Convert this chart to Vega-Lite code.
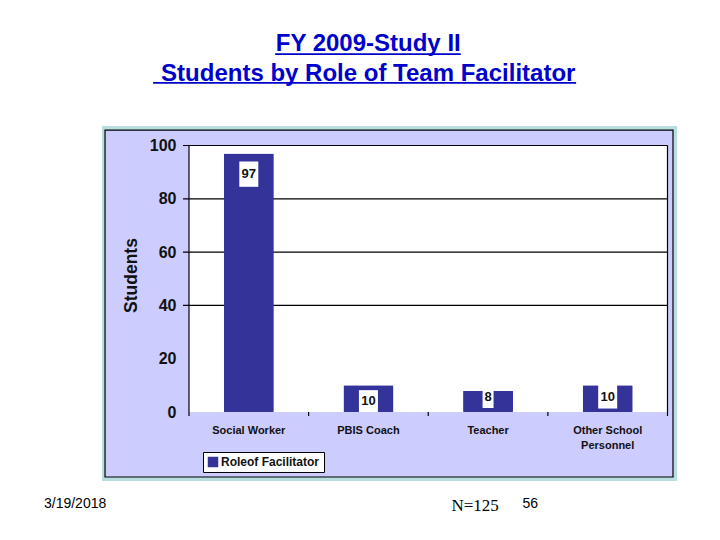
{
  "$schema": "https://vega.github.io/schema/vega-lite/v6.json",
  "description": "Students by role of team facilitator, FY 2009 study II",
  "autosize": "none",
  "width": 478.5,
  "height": 266.5,
  "padding": {"left": 189, "top": 145.5, "right": 52.5, "bottom": 128},
  "background": "white",
  "view": {"stroke": null},
  "title": {
    "text": ["FY 2009-Study II", "Students by Role of Team Facilitator"],
    "anchor": "middle",
    "frame": "group",
    "dx": -60,
    "dy": 83,
    "offset": 50,
    "font": "Liberation Sans",
    "fontSize": 24,
    "fontWeight": "bold",
    "lineHeight": 30,
    "color": "#0000CC"
  },
  "datasets": {
    "roles": [
      {"role": "Social Worker", "students": 97, "boxLow": 84.5, "boxHigh": 94, "labelAt": 89.2},
      {"role": "PBIS Coach", "students": 10, "boxLow": 0, "boxHigh": 8.2, "labelAt": 4.2},
      {"role": "Teacher", "students": 8, "boxLow": 1.5, "boxHigh": 8.6, "labelAt": 5.5},
      {"role": "Other School Personnel", "students": 10, "boxLow": 1.3, "boxHigh": 10.2, "labelAt": 5.7}
    ],
    "frame": [{"left": -0.1818, "right": 1.0199, "low": -25.89, "high": 107.32}],
    "panel": [{"left": -0.1755, "right": 1.0115, "low": -24.39, "high": 105.8}],
    "plot": [{"left": 0, "right": 1, "low": 0, "high": 100}],
    "grid": [
      {"left": -0.0125, "right": 1, "y": 40},
      {"left": -0.0125, "right": 1, "y": 60},
      {"left": -0.0125, "right": 1, "y": 80},
      {"left": -0.0125, "right": 1, "y": 100}
    ],
    "ticks": [
      {"left": 0, "low": -1.5, "high": 100},
      {"left": 0.25, "low": -1.5, "high": 0},
      {"left": 0.5, "low": -1.5, "high": 0},
      {"left": 0.75, "low": -1.5, "high": 0},
      {"left": 1, "low": -1.5, "high": 100}
    ],
    "underlines": [
      {"left": 0.18, "right": 0.568, "y": 134.3},
      {"left": -0.075, "right": 0.809, "y": 123.5}
    ],
    "footer": [
      {"text": "3/19/2018", "left": -0.238, "y": -34.5},
      {"text": "56", "left": 0.713, "y": -34.5}
    ],
    "footerSerif": [{"text": "N=125", "left": 0.598, "y": -35.3}]
  },
  "layer": [
    {
      "encoding": {
        "x": {"field": "left", "type": "quantitative", "scale": {"domain": [0, 1]}, "axis": null}
      },
      "layer": [
        {
          "data": {"name": "frame"},
          "mark": {"type": "rect", "fill": "#B9DEE0"},
          "encoding": {
            "x2": {"field": "right"},
            "y": {"field": "low", "type": "quantitative"},
            "y2": {"field": "high"}
          }
        },
        {
          "data": {"name": "panel"},
          "mark": {"type": "rect", "fill": "#CCCCFF", "stroke": "black", "strokeWidth": 1.2},
          "encoding": {
            "x2": {"field": "right"},
            "y": {"field": "low", "type": "quantitative"},
            "y2": {"field": "high"}
          }
        },
        {
          "data": {"name": "plot"},
          "mark": {"type": "rect", "fill": "white"},
          "encoding": {
            "x2": {"field": "right"},
            "y": {"field": "low", "type": "quantitative"},
            "y2": {"field": "high"}
          }
        },
        {
          "data": {"name": "grid"},
          "mark": {"type": "rule", "stroke": "black", "strokeWidth": 1.2},
          "encoding": {
            "x2": {"field": "right"},
            "y": {"field": "y", "type": "quantitative"}
          }
        },
        {
          "data": {"name": "ticks"},
          "mark": {"type": "rule", "stroke": "black", "strokeWidth": 1.2},
          "encoding": {
            "y": {"field": "low", "type": "quantitative"},
            "y2": {"field": "high"}
          }
        },
        {
          "data": {"name": "underlines"},
          "mark": {"type": "rule", "stroke": "#0000CC", "strokeWidth": 1.8},
          "encoding": {
            "x2": {"field": "right"},
            "y": {"field": "y", "type": "quantitative"}
          }
        },
        {
          "data": {"name": "footer"},
          "mark": {"type": "text", "font": "Liberation Sans", "fontSize": 14, "color": "black"},
          "encoding": {
            "y": {"field": "y", "type": "quantitative"},
            "text": {"field": "text"}
          }
        },
        {
          "data": {"name": "footerSerif"},
          "mark": {"type": "text", "font": "Liberation Serif", "fontSize": 17, "color": "black"},
          "encoding": {
            "y": {"field": "y", "type": "quantitative"},
            "text": {"field": "text"}
          }
        }
      ]
    },
    {
      "data": {"name": "roles"},
      "encoding": {
        "x": {
          "field": "role",
          "type": "nominal",
          "sort": null,
          "scale": {"paddingInner": 0.582, "paddingOuter": 0.291},
          "axis": {
            "title": null,
            "labelAngle": 0,
            "domain": false,
            "ticks": false,
            "labelPadding": 12,
            "labelFont": "Liberation Sans",
            "labelFontSize": 11,
            "labelFontWeight": "bold",
            "labelColor": "#111111",
            "labelLineHeight": 15,
            "labelLimit": 0,
            "labelExpr": "datum.label == 'Other School Personnel' ? ['Other School', 'Personnel'] : datum.label",
            "zindex": 1
          }
        }
      },
      "layer": [
        {
          "mark": {"type": "bar", "cornerRadius": 1},
          "encoding": {
            "y": {
              "field": "students",
              "type": "quantitative",
              "scale": {"domain": [0, 100], "nice": false},
              "axis": {
                "title": "Students",
                "titleFont": "Liberation Sans",
                "titleFontSize": 17.5,
                "titleFontWeight": "bold",
                "titleColor": "#111111",
                "titlePadding": 9,
                "titleY": 129.5,
                "values": [0, 20, 40, 60, 80, 100],
                "grid": false,
                "domain": false,
                "ticks": false,
                "labelPadding": 13,
                "labelFont": "Liberation Sans",
                "labelFontSize": 16,
                "labelFontWeight": "bold",
                "labelColor": "#111111",
                "zindex": 1
              }
            },
            "color": {
              "datum": "Roleof Facilitator",
              "scale": {"range": ["#333399"]},
              "legend": {
                "title": null,
                "orient": "none",
                "legendX": 14,
                "legendY": 306.5,
                "fillColor": "white",
                "strokeColor": "black",
                "padding": 4,
                "symbolType": "square",
                "symbolSize": 110,
                "symbolStrokeWidth": 0,
                "labelOffset": 2,
                "labelFont": "Liberation Sans",
                "labelFontSize": 12,
                "labelFontWeight": "bold",
                "labelColor": "#111111",
                "labelLimit": 0
              }
            }
          }
        },
        {
          "mark": {"type": "bar", "color": "white"},
          "encoding": {
            "y": {"field": "boxLow", "type": "quantitative"},
            "y2": {"field": "boxHigh"},
            "size": {"condition": {"test": "datum.students < 10", "value": 11}, "value": 19}
          }
        },
        {
          "mark": {"type": "text", "font": "Liberation Sans", "fontSize": 13, "fontWeight": "bold", "color": "#111111"},
          "encoding": {
            "y": {"field": "labelAt", "type": "quantitative"},
            "text": {"field": "students", "type": "quantitative"}
          }
        }
      ]
    }
  ],
  "resolve": {"scale": {"x": "independent"}}
}
